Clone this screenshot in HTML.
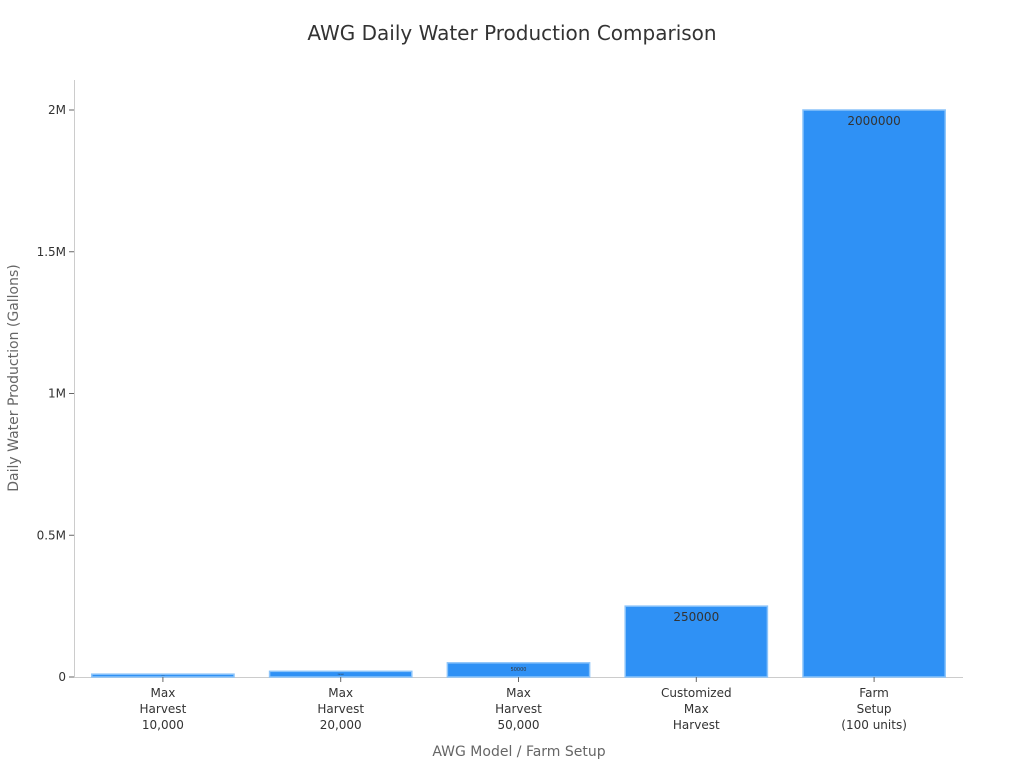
<!DOCTYPE html>
<html><head><meta charset="utf-8"><style>
body{margin:0;background:#fff;font-family:"Liberation Sans","DejaVu Sans",sans-serif}
svg text{font-family:"DejaVu Sans","Liberation Sans",sans-serif}
</style></head><body>
<svg id="chart" width="1024" height="768">
<text x="512" y="40" text-anchor="middle" font-size="20" fill="#333">AWG Daily Water Production Comparison</text>
<text x="519" y="756" text-anchor="middle" font-size="14" fill="#666">AWG Model / Farm Setup</text>
<text transform="translate(18,378) rotate(-90)" text-anchor="middle" font-size="14" fill="#666">Daily Water Production (Gallons)</text>
<line x1="74.5" y1="80" x2="74.5" y2="677" stroke="#ccc"/>
<line x1="74" y1="677.5" x2="963" y2="677.5" stroke="#ccc"/>
<g id="g"></g>
</svg>
<script>
const categories=[["Max","Harvest","10,000"],["Max","Harvest","20,000"],["Max","Harvest","50,000"],["Customized","Max","Harvest"],["Farm","Setup","(100 units)"]];
const values=[10000,20000,50000,250000,2000000];
const yTicks=[0,500000,1000000,1500000,2000000];
const yTickLabels=["0","0.5M","1M","1.5M","2M"];
const NS="http://www.w3.org/2000/svg",g=document.getElementById("g");
const x0=74,x1=963,y0=677,y1=110,maxV=2000000;
const y=v=>y0-(v/maxV)*(y0-y1);
const band=(x1-x0)/categories.length;
const xc=i=>x0+band*(i+0.5);
const bw=band*0.8;
function mk(t,a){const e=document.createElementNS(NS,t);for(const k in a)e.setAttribute(k,a[k]);g.appendChild(e);return e;}
yTicks.forEach((t,i)=>{
const l=mk("line",{x1:69,x2:74,y1:y(t),y2:y(t),stroke:"#666"});


const tx=mk("text",{x:66,y:y(t)+4,"text-anchor":"end","font-size":12,fill:"#333"});
tx.textContent=yTickLabels[i];


});
values.forEach((v,i)=>{
const r=mk("rect",{x:xc(i)-bw/2,y:y(v),width:bw,height:y0-y(v),fill:"#2f91f5",stroke:"#8cc4fa","stroke-width":1.5});


const h=y0-y(v);
const fs=Math.max(1,Math.min(12,h*0.35));
const vt=mk("text",{x:xc(i),y:y(v)+Math.min(h/2+fs*0.35,fs+3),"text-anchor":"middle","font-size":fs,fill:"#333"});
vt.textContent=String(v);


const tk=mk("line",{x1:xc(i),x2:xc(i),y1:677,y2:682,stroke:"#666"});


categories[i].forEach((s,j)=>{
const t=mk("text",{x:xc(i),y:697+j*16,"text-anchor":"middle","font-size":12,fill:"#333"});
t.textContent=s;


});
});
</script>
</body></html>
